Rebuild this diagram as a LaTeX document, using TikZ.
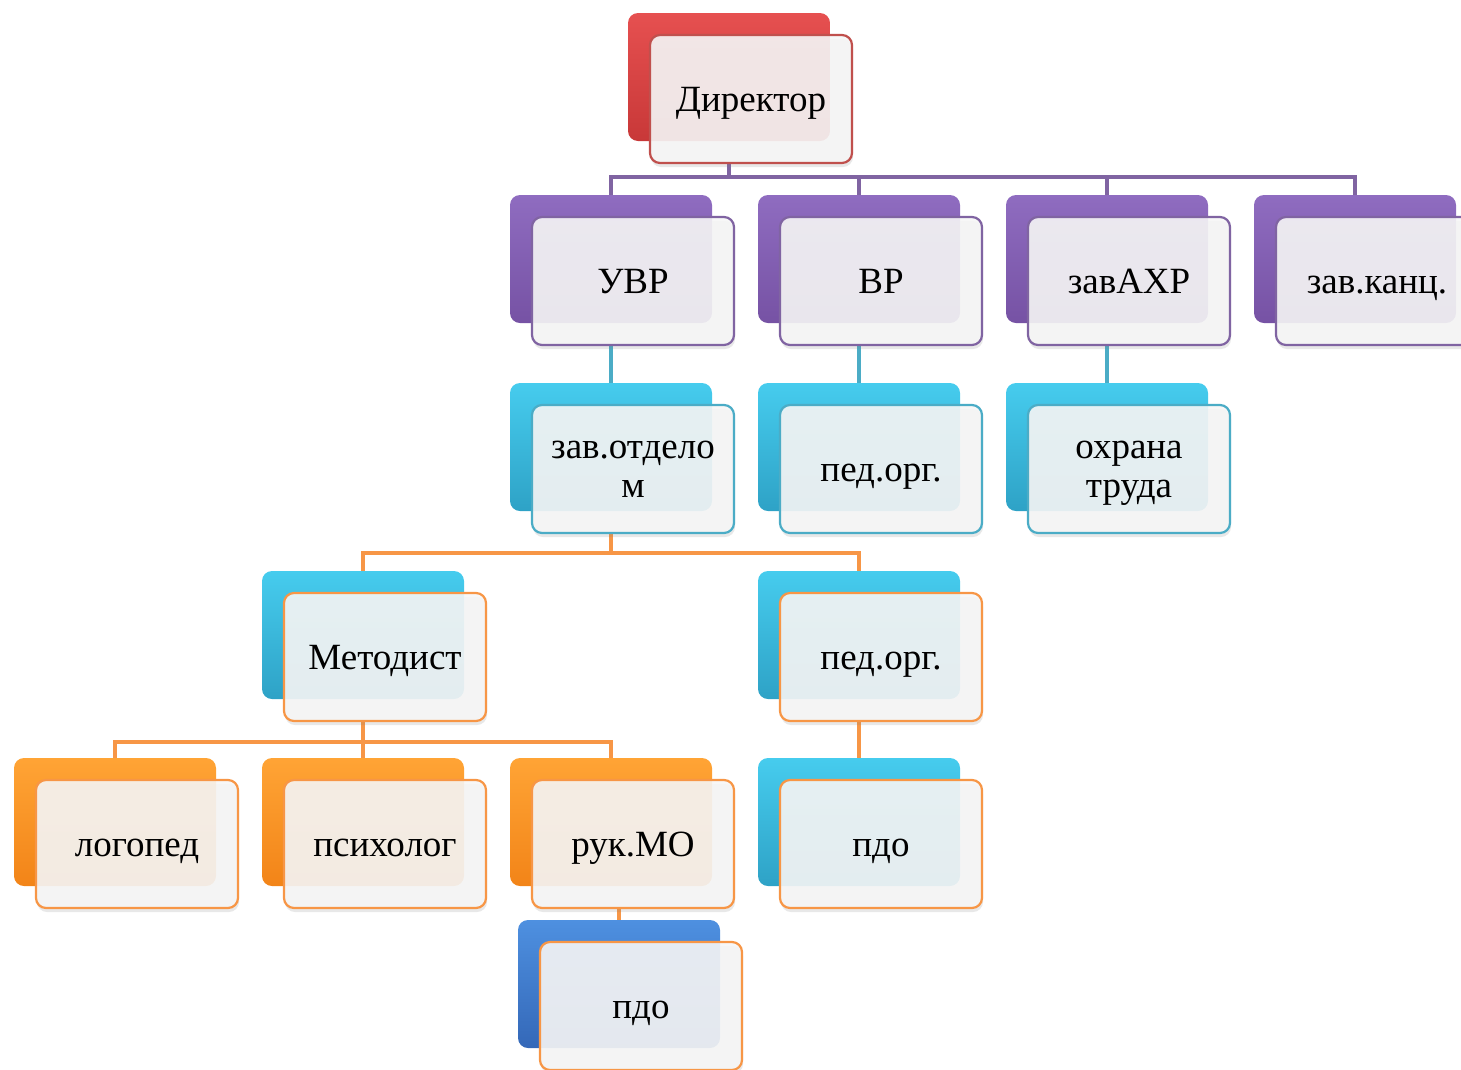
\documentclass[tikz,border=0pt]{standalone}
\usepackage{fontspec}
\setmainfont{Liberation Serif}
\usetikzlibrary{shadows}
\pgfdeclarelayer{bg}
\pgfsetlayers{bg,main}
\definecolor{redA}{HTML}{E65050}
\definecolor{redB}{HTML}{C83838}
\definecolor{purA}{HTML}{8F6CC0}
\definecolor{purB}{HTML}{7652A4}
\definecolor{cyaA}{HTML}{46CCEE}
\definecolor{cyaB}{HTML}{2EA2C6}
\definecolor{oraA}{HTML}{FFA435}
\definecolor{oraB}{HTML}{F28418}
\definecolor{bluA}{HTML}{4E90E0}
\definecolor{bluB}{HTML}{3468B8}
\definecolor{redL}{HTML}{C0504D}
\definecolor{purL}{HTML}{8064A2}
\definecolor{cyaL}{HTML}{4BACC6}
\definecolor{oraL}{HTML}{F79646}
\definecolor{frontc}{HTML}{F6F6F6}
\newcommand{\boxtxt}[1]{\vphantom{Н}\smash{#1}}
\begin{document}
\begin{tikzpicture}[x=1pt,y=-1pt,
  back/.style={rounded corners=10pt, minimum width=202pt, minimum height=128pt, inner sep=0pt},
  bred/.style={back, top color=redA, bottom color=redB},
  bpur/.style={back, top color=purA, bottom color=purB},
  bcya/.style={back, top color=cyaA, bottom color=cyaB},
  bora/.style={back, top color=oraA, bottom color=oraB},
  bblu/.style={back, top color=bluA, bottom color=bluB},
  front/.style={rounded corners=10pt, minimum width=202pt, minimum height=128pt, inner sep=0pt,
    line width=2.2pt, fill=frontc, fill opacity=0.9, text opacity=1, align=center,
    font=\fontsize{37}{39}\selectfont,
    drop shadow={opacity=0.18, shadow xshift=1pt, shadow yshift=-4pt}},
  fred/.style={front, draw=redL},
  fpur/.style={front, draw=purL},
  fcya/.style={front, draw=cyaL},
  fora/.style={front, draw=oraL},
  pline/.style={draw=purL, line width=4pt},
  cline/.style={draw=cyaL, line width=4pt},
  oline/.style={draw=oraL, line width=4pt},
]
\useasboundingbox (0,0) rectangle (1461,1069);
\clip (0,0) rectangle (1461,1069);
% Director
\node[bred] (dirb) at (729,77) {};
\node[fred] (dir) at (751,99) {\boxtxt{Директор}};
% row 1
\node[bpur] (uvrb) at (611,259) {};
\node[fpur] (uvr) at (633,281) {\boxtxt{УВР}};
\node[bpur] (vrb) at (859,259) {};
\node[fpur] (vr) at (881,281) {\boxtxt{ВР}};
\node[bpur] (ahrb) at (1107,259) {};
\node[fpur] (ahr) at (1129,281) {\boxtxt{завАХР}};
\node[bpur] (kancb) at (1355,259) {};
\node[fpur] (kanc) at (1377,281) {\boxtxt{зав.канц.}};
% row 2
\node[bcya] (zavb) at (611,447) {};
\node[fcya] (zav) at (633,469) {зав.отдело\\м};
\node[bcya] (pedab) at (859,447) {};
\node[fcya] (peda) at (881,469) {\boxtxt{пед.орг.}};
\node[bcya] (ohrb) at (1107,447) {};
\node[fcya] (ohr) at (1129,469) {охрана\\\smash{труда}};
% row 3
\node[bcya] (metb) at (363,635) {};
\node[fora] (met) at (385,657) {\boxtxt{Методист}};
\node[bcya] (pedbb) at (859,635) {};
\node[fora] (pedb) at (881,657) {\boxtxt{пед.орг.}};
% row 4
\node[bora] (logb) at (115,822) {};
\node[fora] (log) at (137,844) {\boxtxt{логопед}};
\node[bora] (psyb) at (363,822) {};
\node[fora] (psy) at (385,844) {\boxtxt{психолог}};
\node[bora] (rukb) at (611,822) {};
\node[fora] (ruk) at (633,844) {\boxtxt{рук.МО}};
\node[bcya] (pdoab) at (859,822) {};
\node[fora] (pdoa) at (881,844) {\boxtxt{пдо}};
% row 5
\node[bblu] (pdobb) at (619,984) {};
\node[fora] (pdob) at (641,1006) {\boxtxt{пдо}};
% connectors
\begin{pgfonlayer}{bg}
\draw[pline] (dirb.south|-dir.south) -- ++(0,13) -| (uvrb.north);
\draw[pline] (dirb.south|-dir.south) -- ++(0,13) -| (vrb.north);
\draw[pline] (dirb.south|-dir.south) -- ++(0,13) -| (ahrb.north);
\draw[pline] (dirb.south|-dir.south) -- ++(0,13) -| (kancb.north);
\draw[cline] (uvrb.south|-uvr.south) -- (zavb.north);
\draw[cline] (vrb.south|-vr.south) -- (pedab.north);
\draw[cline] (ahrb.south|-ahr.south) -- (ohrb.north);
\draw[oline] (zavb.south|-zav.south) -- ++(0,19) -| (metb.north);
\draw[oline] (zavb.south|-zav.south) -- ++(0,19) -| (pedbb.north);
\draw[oline] (metb.south|-met.south) -- ++(0,20) -| (logb.north);
\draw[oline] (metb.south|-met.south) -- ++(0,20) -| (psyb.north);
\draw[oline] (metb.south|-met.south) -- ++(0,20) -| (rukb.north);
\draw[oline] (pedbb.south|-pedb.south) -- (pdoab.north);
\draw[oline] (pdobb.north|-ruk.south) -- (pdobb.north);
\end{pgfonlayer}
\end{tikzpicture}
\end{document}
